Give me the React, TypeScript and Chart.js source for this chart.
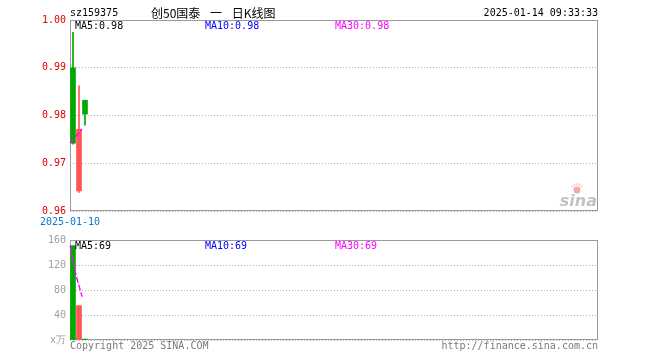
import React, { useEffect, useRef } from "react";
import { Chart, registerables } from "chart.js";

Chart.register(...registerables);

// ---- data ----
const SYMBOL = "sz159375";
const TITLE = "创50国泰 一 日K线图";
const TIMESTAMP = "2025-01-14 09:33:33";
const COPYRIGHT = "Copyright 2025 SINA.COM";
const SITE = "http://finance.sina.com.cn";

const dates = ["2025-01-10", "2025-01-13", "2025-01-14"];
const opens = [0.99, 0.9642, 0.9832];
const closes = [0.9742, 0.9771, 0.9803];
const highs = [0.9974, 0.9862, 0.9832];
const lows = [0.974, 0.9639, 0.978];

const priceMA5 = [0.9742, 0.9757, 0.9772];
const priceMA10 = [0.9742, 0.9757, 0.9772];
const priceMA30 = [0.9742, 0.9757, 0.9772];

const volumes = [151, 55, 1.5];
const volMA5 = [151, 103, 69.2];
const volMA10 = [151, 103, 69.2];
const volMA30 = [151, 103, 69.2];

const priceTicks = [0.96, 0.97, 0.98, 0.99, 1.0];
const volumeTicks = [0, 40, 80, 120, 160];
const VOLUME_UNIT = "x万";
const SLOT_COUNT = 88;

// ---- style ----
const MONO = '10px "DejaVu Sans Mono", monospace';
const UP = "#ff5555";
const DOWN = "#00a800";
const BORDER = "#9a9a9a";
const GRID = "#b0b0b0";
const MAGENTA = "#ff00ff";
const BLUE = "#0000ff";

const slotLabels = Array.from({ length: SLOT_COUNT }, (_, i) => dates[i] ?? "");
const candleColors = opens.map((o, i) => (closes[i] >= o ? UP : DOWN));

function borderPlugin() {
  return {
    id: "panelBorder",
    beforeDatasetsDraw(chart: any) {
      const { ctx, chartArea: a } = chart;
      ctx.save();
      ctx.strokeStyle = BORDER;
      ctx.lineWidth = 1;
      ctx.strokeRect(a.left + 0.5, a.top + 0.5, a.right - a.left - 1, a.bottom - a.top - 1);
      ctx.restore();
    },
  };
}

// MA5 / MA10 / MA30 coincide over three sessions; the MA30 line (drawn last) is the only one visible.
function maLine(label: string, data: number[], color: string, order: number) {
  return {
    type: "line" as const,
    label,
    data,
    xAxisID: "x2",
    borderColor: color,
    borderWidth: 1.4,
    borderDash: [6, 2],
    pointRadius: 0,
    fill: false,
    tension: 0,
    order,
  };
}

export default function App() {
  const topRef = useRef<HTMLCanvasElement>(null);
  const botRef = useRef<HTMLCanvasElement>(null);

  useEffect(() => {
    const textPlugin = {
      id: "topTexts",
      afterDraw(chart: any) {
        const { ctx, chartArea: a } = chart;
        ctx.save();
        ctx.textBaseline = "middle";
        ctx.font = MONO;
        ctx.fillStyle = "#000";
        ctx.textAlign = "left";
        ctx.fillText(SYMBOL, 70, 13);
        ctx.textAlign = "right";
        ctx.fillText(TIMESTAMP, a.right, 13);
        ctx.textAlign = "left";
        ctx.font = '12px "Noto Sans CJK SC", sans-serif';
        (ctx as any).wordSpacing = "7px";
        ctx.fillText(TITLE, 151, 13);
        (ctx as any).wordSpacing = "0px";
        ctx.font = MONO;
        const last = priceMA5.length - 1;
        ctx.fillStyle = "#000";
        ctx.fillText("MA5:" + priceMA5[last].toFixed(2), a.left + 5, a.top + 6);
        ctx.fillStyle = BLUE;
        ctx.fillText("MA10:" + priceMA10[last].toFixed(2), a.left + 135, a.top + 6);
        ctx.fillStyle = MAGENTA;
        ctx.fillText("MA30:" + priceMA30[last].toFixed(2), a.left + 265, a.top + 6);
        // sina watermark
        ctx.globalAlpha = 0.6;
        ctx.fillStyle = "#9a9a9a";
        ctx.font = 'italic bold 16px "DejaVu Sans", sans-serif';
        ctx.textAlign = "right";
        ctx.textBaseline = "alphabetic";
        ctx.fillText("sina", a.right - 1, a.bottom - 5);
        ctx.fillStyle = "#f07070";
        ctx.beginPath();
        ctx.arc(a.right - 21, a.bottom - 21, 3.5, 0, Math.PI * 2);
        ctx.fill();
        ctx.strokeStyle = "#f07070";
        ctx.lineWidth = 1;
        for (let k = -2; k <= 2; k++) {
          const ang = -Math.PI / 2 + k * 0.45;
          ctx.beginPath();
          ctx.moveTo(a.right - 21 + Math.cos(ang) * 4.5, a.bottom - 21 + Math.sin(ang) * 4.5);
          ctx.lineTo(a.right - 21 + Math.cos(ang) * 7, a.bottom - 21 + Math.sin(ang) * 7);
          ctx.stroke();
        }
        ctx.restore();
      },
    };

    const top = new Chart(topRef.current!, {
      type: "bar",
      data: {
        labels: slotLabels,
        datasets: [
          {
            type: "bar",
            label: "wick",
            data: dates.map((_, i) => [lows[i], highs[i]]),
            backgroundColor: candleColors,
            barThickness: 1,
            grouped: false,
            order: 2,
          } as any,
          {
            type: "bar",
            label: "body",
            data: dates.map((_, i) => [opens[i], closes[i]]),
            backgroundColor: candleColors,
            barThickness: 5,
            grouped: false,
            order: 1,
          } as any,
          maLine("MA30", priceMA30, MAGENTA, -3),
        ],
      },
      options: {
        animation: false,
        responsive: false,
        devicePixelRatio: 1,
        layout: { padding: { top: 20, right: 62, left: 0, bottom: 0 } },
        plugins: { legend: { display: false }, tooltip: { enabled: false } },
        scales: {
          x: {
            type: "category",
            offset: true,
            grid: { display: false, drawTicks: false },
            border: { display: false },
            ticks: {
              autoSkip: false,
              maxRotation: 0,
              minRotation: 0,
              labelOffset: -3,
              padding: 5,
              color: "#0a78d2",
              font: { family: '"DejaVu Sans Mono", monospace', size: 10 },
              callback: (_v: any, i: number) => (i < 1 ? dates[i] : ""),
            },
            afterFit: (s: any) => {
              s.height = 19;
            },
          },
          x2: {
            type: "category",
            labels: slotLabels,
            offset: false,
            display: false,
          },
          y: {
            min: priceTicks[0],
            max: priceTicks[priceTicks.length - 1],
            afterBuildTicks: (s: any) => {
              s.ticks = priceTicks.map((v) => ({ value: v }));
            },
            grid: { color: GRID, lineWidth: 1, drawTicks: false },
            border: { display: false, dash: [1, 2] },
            ticks: {
              padding: 4,
              color: "#e00000",
              font: { family: '"DejaVu Sans Mono", monospace', size: 10 },
              callback: (v: any) => Number(v).toFixed(2),
            },
            afterFit: (s: any) => {
              s.width = 70;
            },
          },
        },
      } as any,
      plugins: [borderPlugin(), textPlugin],
    });

    const botText = {
      id: "botTexts",
      afterDraw(chart: any) {
        const { ctx, chartArea: a } = chart;
        ctx.save();
        ctx.textBaseline = "middle";
        ctx.font = MONO;
        ctx.textAlign = "left";
        const last = volMA5.length - 1;
        ctx.fillStyle = "#000";
        ctx.fillText("MA5:" + Math.round(volMA5[last]), a.left + 5, a.top + 6);
        ctx.fillStyle = BLUE;
        ctx.fillText("MA10:" + Math.round(volMA10[last]), a.left + 135, a.top + 6);
        ctx.fillStyle = MAGENTA;
        ctx.fillText("MA30:" + Math.round(volMA30[last]), a.left + 265, a.top + 6);
        ctx.fillStyle = "#7a7a7a";
        ctx.fillText(COPYRIGHT, a.left, a.bottom + 6);
        ctx.textAlign = "right";
        ctx.fillText(SITE, a.right, a.bottom + 6);
        ctx.restore();
      },
    };

    const bot = new Chart(botRef.current!, {
      type: "bar",
      data: {
        labels: slotLabels,
        datasets: [
          {
            type: "bar",
            label: "volume",
            data: volumes,
            backgroundColor: candleColors,
            barThickness: 5,
            grouped: false,
            order: 1,
          } as any,
          maLine("MA30", volMA30, MAGENTA, -3),
        ],
      },
      options: {
        animation: false,
        responsive: false,
        devicePixelRatio: 1,
        layout: { padding: { top: 10, right: 62, left: 0, bottom: 20 } },
        plugins: { legend: { display: false }, tooltip: { enabled: false } },
        scales: {
          x: { type: "category", offset: true, display: false },
          x2: { type: "category", labels: slotLabels, offset: false, display: false },
          y: {
            min: volumeTicks[0],
            max: volumeTicks[volumeTicks.length - 1],
            afterBuildTicks: (s: any) => {
              s.ticks = volumeTicks.map((v) => ({ value: v }));
            },
            grid: { color: GRID, lineWidth: 1, drawTicks: false },
            border: { display: false, dash: [1, 2] },
            ticks: {
              padding: 4,
              color: "#a0a0a0",
              font: { family: '"DejaVu Sans Mono", monospace', size: 10 },
              callback: (v: any) => (Number(v) === 0 ? VOLUME_UNIT : String(v)),
            },
            afterFit: (s: any) => {
              s.width = 70;
            },
          },
        },
      } as any,
      plugins: [borderPlugin(), botText],
    });

    return () => {
      top.destroy();
      bot.destroy();
    };
  }, []);

  return (
    <div style={{ position: "fixed", left: 0, top: 0, width: 660, height: 360, background: "#fff" }}>
      <canvas ref={topRef} width={660} height={230} style={{ position: "absolute", left: 0, top: 0, width: 660, height: 230 }} />
      <canvas ref={botRef} width={660} height={130} style={{ position: "absolute", left: 0, top: 230, width: 660, height: 130 }} />
    </div>
  );
}
